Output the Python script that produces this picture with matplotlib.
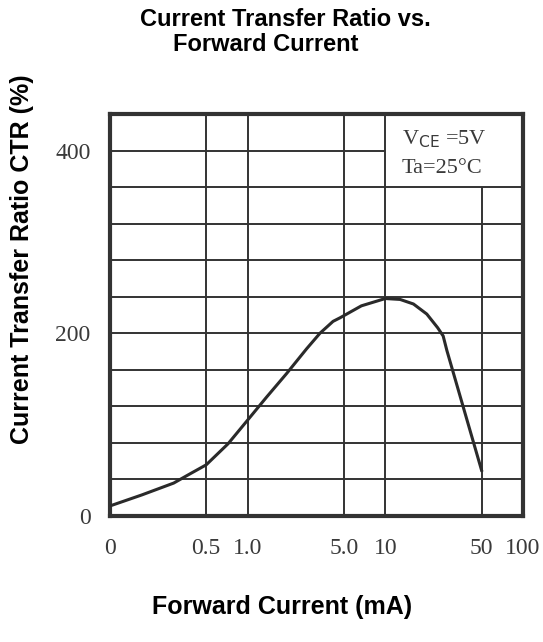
import matplotlib.pyplot as plt

# CTR curve
forward_current = [0.1, 0.17, 0.29, 0.38, 0.5, 0.72, 1.0, 1.37, 1.92, 2.68, 3.35,
                   4.17, 4.7, 6.7, 10, 12.8, 16, 20, 24, 26.3, 28, 50]
ctr = [11, 23, 36, 46, 56, 79, 105, 130, 156, 183, 200,
       213, 217, 230, 238, 237, 232, 221, 206, 197, 181, 50]

x_ticks = [0.1, 0.5, 1.0, 5.0, 10, 50, 100]
x_labels = ["0", "0.5", "1.0", "5.0", "10", "50", "100"]
y_ticks = [0, 200, 400]
y_grid = [40, 80, 120, 160, 200, 240, 280, 320, 360, 400]
x_grid = [0.5, 1.0, 5.0, 10, 50]

fig = plt.figure(figsize=(5.43, 6.42), dpi=100)
ax = fig.add_axes([0.2026, 0.1963, 0.7606, 0.6262])

ax.set_xscale("log")
ax.set_xlim(0.1, 100)
ax.set_ylim(0, 440)

grid_color = "#333333"
for y in y_grid:
    xmax = 10 if y >= 400 else 100
    ax.hlines(y, 0.1, xmax, color=grid_color, lw=1.4, zorder=1)
for x in x_grid:
    ymax = 360 if x >= 50 else 440
    ax.vlines(x, 0, ymax, color=grid_color, lw=1.4, zorder=1)

ax.plot(forward_current, ctr, color="#2a2a2a", lw=2.2, zorder=3)

serif = dict(family="Liberation Serif", color="#3a3a3a")
ax.text(13.2, 412, r"V$_{\rm CE}$ =5V", fontsize=16, va="center", **serif)
ax.text(13.2, 380, "Ta=25°C", fontsize=16, va="center", **serif)

ax.set_xticks(x_ticks)
ax.set_xticklabels(x_labels, fontsize=17, **serif)
ax.minorticks_off()
ax.set_yticks(y_ticks)
ax.set_yticklabels([str(v) for v in y_ticks], fontsize=17, **serif)
ax.tick_params(length=0)
ax.tick_params(axis="x", pad=16)
ax.tick_params(axis="y", pad=14)

for s in ax.spines.values():
    s.set_linewidth(3)
    s.set_color("#333333")

bold = dict(family="Liberation Sans", fontweight="bold")
fig.text(0.258, 0.969, "Current Transfer Ratio vs.", va="center", ha="left",
         fontsize=17, **bold)
fig.text(0.319, 0.931, "Forward Current", va="center", ha="left", fontsize=17, **bold)
fig.text(0.52, 0.055, "Forward Current (mA)", va="center", ha="center",
         fontsize=18, **bold)
fig.text(0.04, 0.597, "Current Transfer Ratio CTR (%)", va="center", ha="center",
         rotation=90, fontsize=18, **bold)

fig.savefig("out.png", dpi=100)
